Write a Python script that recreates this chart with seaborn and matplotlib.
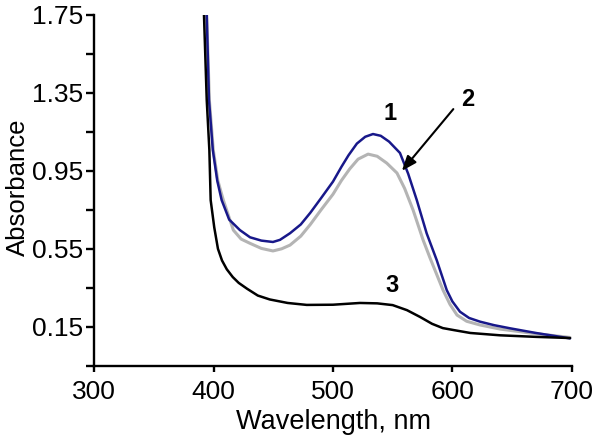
import numpy as np
import pandas as pd
import matplotlib
matplotlib.use("Agg")
import matplotlib.pyplot as plt
import seaborn as sns
from matplotlib.ticker import FixedLocator

# ---- data ----
wl_1 = [394.2, 396.1, 399.3, 403.0, 406.7, 413.0, 422.0, 430.5, 440.0, 449.7, 455.6, 464.0, 473.0,
        481.0, 490.0, 500.0, 507.0, 513.0, 520.0, 527.0, 533.5, 540.0, 547.0, 556.1, 563.0, 570.2,
        578.5, 586.9, 595.3, 600.0, 606.4, 614.0, 623.2, 635.0, 648.3, 670.0, 698.6]
abs_1 = [1.75, 1.314, 1.057, 0.90, 0.80, 0.70, 0.646, 0.609, 0.592, 0.585, 0.596, 0.63, 0.675,
         0.735, 0.81, 0.895, 0.97, 1.03, 1.09, 1.125, 1.139, 1.13, 1.10, 1.042, 0.935, 0.80,
         0.629, 0.492, 0.338, 0.28, 0.227, 0.195, 0.176, 0.158, 0.142, 0.118, 0.09]

wl_2 = [394.2, 396.4, 399.7, 403.5, 408.1, 416.5, 423.0, 430.5, 440.0, 449.7, 457.0, 464.0, 473.0,
        481.0, 490.0, 500.0, 507.0, 514.0, 521.0, 529.4, 537.0, 545.0, 553.6, 560.0, 567.1, 575.5,
        581.3, 592.2, 598.0, 603.9, 612.0, 623.2, 640.0, 665.0, 698.6]
abs_2 = [1.75, 1.314, 1.057, 0.90, 0.80, 0.646, 0.60, 0.578, 0.552, 0.539, 0.55, 0.569, 0.615,
         0.675, 0.75, 0.83, 0.90, 0.96, 1.01, 1.036, 1.025, 0.99, 0.939, 0.86, 0.749, 0.595,
         0.503, 0.338, 0.265, 0.21, 0.178, 0.159, 0.138, 0.118, 0.095]

wl_3 = [391.9, 394.2, 396.4, 397.5, 400.5, 403.6, 407.0, 411.0, 416.0, 421.0, 428.0, 437.0, 447.0,
        462.0, 478.0, 500.0, 522.6, 537.0, 550.0, 562.0, 573.0, 583.0, 592.0, 601.0, 615.0, 640.0,
        670.0, 698.6]
abs_3 = [1.75, 1.314, 1.057, 0.80, 0.66, 0.55, 0.49, 0.445, 0.405, 0.375, 0.345, 0.31, 0.29,
         0.272, 0.262, 0.263, 0.272, 0.27, 0.261, 0.235, 0.20, 0.165, 0.143, 0.133, 0.118, 0.106,
         0.098, 0.092]

x_ticks = [300, 400, 500, 600, 700]
y_ticks = [0.15, 0.55, 0.95, 1.35, 1.75]
y_minor = [-0.05, 0.35, 0.75, 1.15, 1.55]
curve_labels = ["1", "2", "3"]

sns.set_style("ticks")
plt.rcParams["font.family"] = ["Liberation Sans", "DejaVu Sans"]
plt.rcParams["text.color"] = "black"
plt.rcParams["axes.labelcolor"] = "black"

fig = plt.figure(figsize=(6.0, 4.41), dpi=100)
ax = fig.add_axes([94.3 / 600, 1 - 365.7 / 441, (571.7 - 94.3) / 600, (365.7 - 15) / 441])

df1 = pd.DataFrame({"wl": wl_1, "a": abs_1})
df2 = pd.DataFrame({"wl": wl_2, "a": abs_2})
df3 = pd.DataFrame({"wl": wl_3, "a": abs_3})

sns.lineplot(data=df2, x="wl", y="a", ax=ax, color="#b4b4b4", lw=2.2, sort=False)
sns.lineplot(data=df1, x="wl", y="a", ax=ax, color="#18188a", lw=1.8, sort=False)
sns.lineplot(data=df3, x="wl", y="a", ax=ax, color="black", lw=1.8, sort=False)

ax.set_xlim(300, 700)
ax.set_ylim(-0.05, 1.75)
ax.set_xticks(x_ticks)
ax.set_xticklabels([str(v) for v in x_ticks])
ax.set_yticks(y_ticks)
ax.set_yticklabels([f"{v:.2f}" for v in y_ticks])
ax.yaxis.set_minor_locator(FixedLocator(y_minor))

for s in ["top", "right"]:
    ax.spines[s].set_visible(False)
for s in ["left", "bottom"]:
    ax.spines[s].set_linewidth(1.7)
    ax.spines[s].set_color("black")

ax.tick_params(axis="x", which="major", direction="out", length=4.3, width=1.7,
               labelsize=19, colors="black", pad=6)
ax.tick_params(axis="y", which="major", direction="out", length=5.8, width=1.7,
               labelsize=19, colors="black", pad=2)
ax.tick_params(axis="y", which="minor", direction="out", length=5.8, width=1.7, colors="black")

ax.set_xlabel("Wavelength, nm", fontsize=19.5, labelpad=3.5)
ax.set_ylabel("Absorbance", fontsize=18.5)
ax.yaxis.set_label_coords(-0.1347, 0.51)

ax.text(548, 1.247, curve_labels[0], fontsize=17, fontweight="bold", ha="center", va="center")
ax.text(613.3, 1.314, curve_labels[1], fontsize=17, fontweight="bold", ha="center", va="center")
ax.text(549.5, 0.364, curve_labels[2], fontsize=17, fontweight="bold", ha="center", va="center")

ax.annotate("", xy=(556.2, 0.939), xytext=(602.3, 1.278),
            arrowprops=dict(arrowstyle="-|>,head_length=0.9,head_width=0.35", color="black", lw=1.5))

fig.savefig("out.png", dpi=100)
